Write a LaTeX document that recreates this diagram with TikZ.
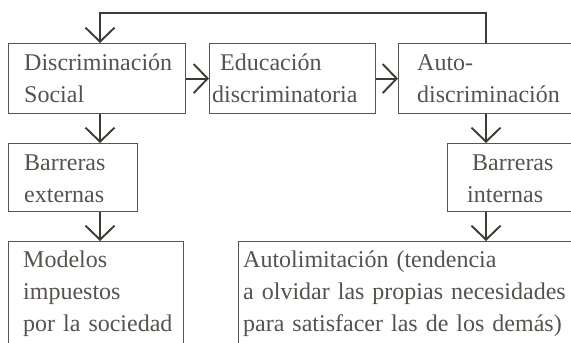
\documentclass[tikz,border=0pt]{standalone}
\usepackage{fontspec}
\setmainfont{Liberation Serif}
\usetikzlibrary{arrows.meta}
\definecolor{linec}{HTML}{3F3A36}
\definecolor{boxc}{HTML}{5A5450}
\definecolor{textc}{HTML}{57524E}
\tikzset{
  boxnode/.style={draw=boxc, line width=1.1pt, rectangle, inner sep=0pt, anchor=north west},
  txt/.style={text=textc, anchor=base west, inner sep=0pt, text width=330pt, align=left,
    font=\fontsize{24}{32}\selectfont},
  arr/.style={draw=linec, line width=1.9pt, -{Straight Barb[length=14pt,width=29pt,line width=1.9pt]}},
}
\begin{document}
\begin{tikzpicture}[x=1pt,y=-1pt]
\path[use as bounding box] (0,0) rectangle (571,343);
\clip (0,0) rectangle (571,343);
\fill[white] (0,0) rectangle (571,343);
% boxes
\node[boxnode, minimum width=177pt, minimum height=70pt] (ds) at (8,43) {};
\node[boxnode, minimum width=166pt, minimum height=70pt] (ed) at (209,43) {};
\node[boxnode, minimum width=202pt, minimum height=70pt] (ad) at (398,43) {};
\node[boxnode, minimum width=129pt, minimum height=68pt] (be) at (8,143) {};
\node[boxnode, minimum width=153pt, minimum height=68pt] (bi) at (447,143) {};
\node[boxnode, minimum width=175pt, minimum height=120pt] (mo) at (8,241) {};
\node[boxnode, minimum width=362pt, minimum height=120pt] (al) at (238,241) {};
% texts
\node[txt] (tds) at (24,70) {Discriminación\\Social};
\node[txt] (ted) at (212,70) {\hspace*{8pt}Educación\\discriminatoria};
\node[txt] (tad) at (417,70) {Auto-\\discriminación};
\node[txt] (tbe) at (24,170) {Barreras\\externas};
\node[txt] (tbi) at (467,170) {\hspace*{5pt}Barreras\\internas};
\node[txt] (tmo) at (23,267) {Modelos\\impuestos\\por la sociedad};
\node[txt] (tal) at (243,267) {Autolimitación (tendencia\\a olvidar las propias necesidades\\para satisfacer las de los demás)};
% reference columns
\coordinate (cl) at (100,0);
\coordinate (cr) at (486,0);
\coordinate (top) at (100,13);
% connectors
\draw[arr] (ds.east) -- (ed.west);
\draw[arr] (ed.east) -- (ad.west);
\draw[arr] (ds.south -| cl) -- (be.north -| cl);
\draw[arr] (be.south -| cl) -- (mo.north -| cl);
\draw[arr] (ad.south -| cr) -- (bi.north -| cr);
\draw[arr] (bi.south -| cr) -- (al.north -| cr);
\draw[arr] (ad.north -| cr) |- (top) -- (ds.north -| cl);
\end{tikzpicture}
\end{document}
